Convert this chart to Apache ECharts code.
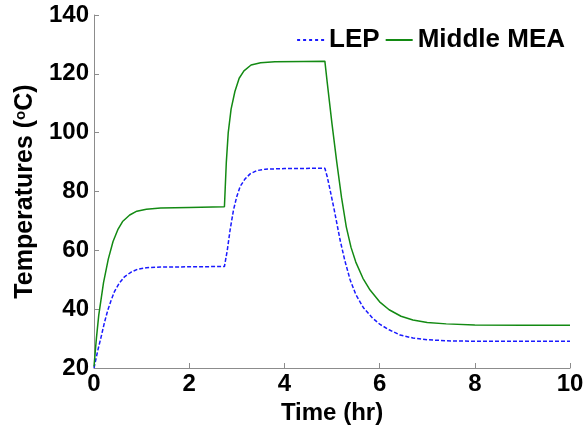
<!DOCTYPE html>
<html>
<head>
<meta charset="utf-8">
<script src="https://cdn.jsdelivr.net/npm/echarts@6/dist/echarts.min.js"></script>
<style>
html,body{margin:0;padding:0;background:#fff;}
#chart{width:587px;height:427px;}
</style>
</head>
<body>
<div id="chart"></div>
<script>
// Time (hr) and temperature (°C) for each series
var lepTime = [0, 0.08, 0.15, 0.22, 0.29, 0.36, 0.43, 0.53, 0.64, 0.78, 0.92, 1.1, 1.4, 2.0, 2.74,
  2.8, 2.86, 2.93, 3.0, 3.07, 3.17, 3.28, 3.42, 3.6, 4.0, 4.85,
  4.9, 4.96, 5.05, 5.17, 5.27, 5.38, 5.5, 5.66, 5.85, 6.01, 6.2, 6.43, 6.7, 7.0, 7.5, 8.0, 10];
var lepTemp = [20, 26, 30.6, 35.5, 39.7, 43, 46, 48.8, 51, 52.6, 53.6, 54.1, 54.3, 54.4, 54.5,
  60, 67, 73.7, 78.3, 81.7, 84.2, 86, 87.1, 87.6, 87.8, 87.9,
  85, 80.5, 73.5, 63.5, 56.5, 50, 45, 40.5, 37, 34.8, 33, 31.2, 30.2, 29.6, 29.2, 29.1, 29.1];

var meaTime = [0, 0.05, 0.1, 0.2, 0.3, 0.4, 0.5, 0.6, 0.75, 0.9, 1.1, 1.4, 2.0, 2.74,
  2.78, 2.82, 2.88, 2.96, 3.05, 3.15, 3.3, 3.5, 3.8, 4.4, 4.85,
  4.9, 5.0, 5.1, 5.2, 5.3, 5.4, 5.5, 5.65, 5.8, 6.0, 6.2, 6.45, 6.7, 7.0, 7.4, 8.0, 9.0, 10];
var meaTemp = [20.5, 30, 38, 49, 57, 63, 67, 69.8, 72, 73.3, 74, 74.4, 74.6, 74.8,
  90, 100, 108, 114, 118.5, 121, 123, 123.8, 124.1, 124.2, 124.3,
  117, 103, 90, 78, 68, 61, 56, 50.5, 46.5, 42.5, 39.8, 37.6, 36.3, 35.5, 35, 34.6, 34.5, 34.5];

var seriesNames = ['LEP', 'Middle MEA'];
var xTicks = [0, 2, 4, 6, 8, 10];
var yTicks = [20, 40, 60, 80, 100, 120, 140];

function pairs(xs, ys) { return xs.map(function (x, i) { return [x, ys[i]]; }); }

var FONT = '"Liberation Sans", Arial, sans-serif';
var axisColor = '#8c8c8c';
var blue = '#1a1aff';
var green = '#138a13';

var dashIcon = 'path://M0,0h3v2h-3z M6,0h3v2h-3z M12,0h3v2h-3z M18,0h3v2h-3z M24,0h3v2h-3z';
var solidIcon = 'path://M0,0h27v2h-27z';

var chart = echarts.init(document.getElementById('chart'), null, {renderer: 'canvas'});
chart.setOption({
  animation: false,
  backgroundColor: '#ffffff',
  grid: {left: 94, right: 17, top: 15, bottom: 59, containLabel: false, outerBoundsMode: 'none'},
  legend: {
    data: [
      {name: seriesNames[0], icon: dashIcon, itemStyle: {color: blue}},
      {name: seriesNames[1], icon: solidIcon, itemStyle: {color: green}}
    ],
    right: 17, top: 22,
    itemWidth: 27, itemHeight: 2, itemGap: 6,
    textStyle: {fontFamily: FONT, fontWeight: 'bold', fontSize: 26, color: '#000'}
  },
  xAxis: {
    type: 'value',
    min: xTicks[0], max: xTicks[xTicks.length - 1], interval: 2,
    name: 'Time (hr)', nameLocation: 'middle', nameGap: 30,
    nameTextStyle: {fontFamily: FONT, fontWeight: 'bold', fontSize: 24, color: '#000'},
    axisLine: {show: true, lineStyle: {color: axisColor, width: 1}},
    axisTick: {show: true, inside: true, length: 5, lineStyle: {color: axisColor}},
    axisLabel: {fontFamily: FONT, fontWeight: 'bold', fontSize: 24, color: '#000', margin: 4},
    splitLine: {show: false}
  },
  yAxis: {
    type: 'value',
    min: yTicks[0], max: yTicks[yTicks.length - 1], interval: 20,
    name: '{a|Temperatures (}{s|o}{a|C)}', nameLocation: 'middle', nameGap: 46, nameRotate: 90,
    nameTextStyle: {
      fontFamily: FONT, fontWeight: 'bold', fontSize: 25, color: '#000',
      rich: {
        a: {fontFamily: FONT, fontWeight: 'bold', fontSize: 25, color: '#000'},
        s: {fontFamily: FONT, fontWeight: 'bold', fontSize: 15, color: '#000', padding: [0, 0, 10, 0]}
      }
    },
    axisLine: {show: true, onZero: false, lineStyle: {color: axisColor, width: 1}},
    axisTick: {show: true, inside: true, length: 5, lineStyle: {color: axisColor}},
    axisLabel: {fontFamily: FONT, fontWeight: 'bold', fontSize: 24, color: '#000', margin: 5},
    splitLine: {show: false}
  },
  series: [
    {
      name: seriesNames[0], type: 'line', data: pairs(lepTime, lepTemp),
      symbol: 'none', smooth: false,
      lineStyle: {color: blue, width: 1.5, type: [4, 2]},
      itemStyle: {color: blue}
    },
    {
      name: seriesNames[1], type: 'line', data: pairs(meaTime, meaTemp),
      symbol: 'none', smooth: false,
      lineStyle: {color: green, width: 1.5, type: 'solid'},
      itemStyle: {color: green}
    }
  ]
});
</script>
</body>
</html>
